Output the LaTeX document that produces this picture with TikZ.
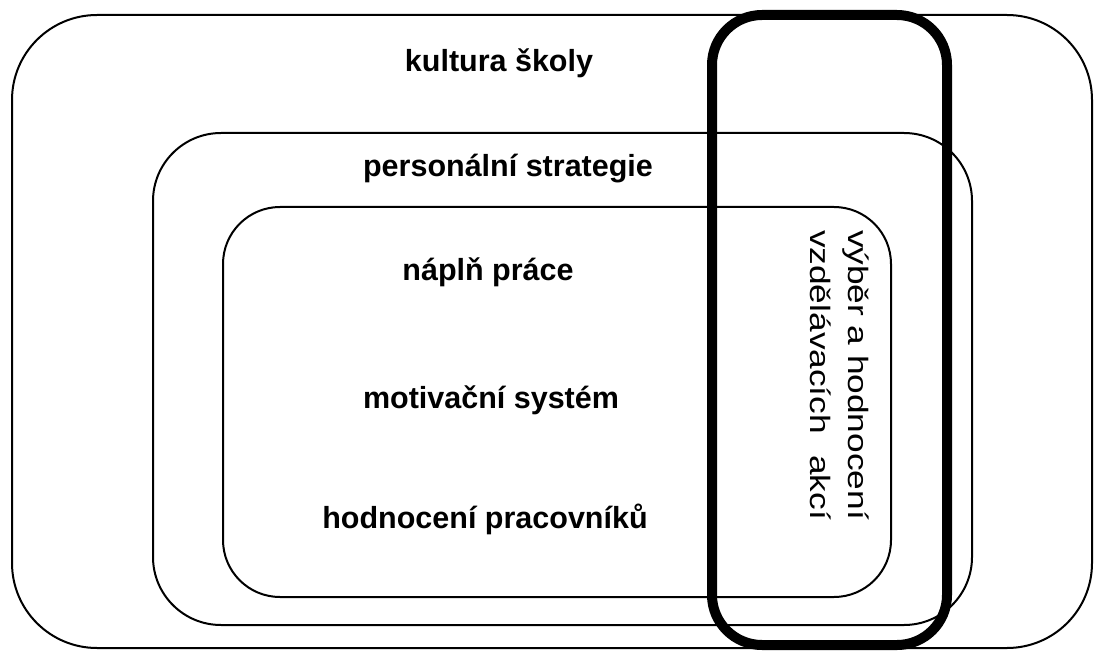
\documentclass[tikz,border=0pt]{standalone}
\usepackage{fontspec}
\setmainfont{Liberation Sans}
\usepackage{tikz}
\usetikzlibrary{positioning}

\tikzset{
  frame/.style={line width=2pt,rounded corners=#1},
  bigframe/.style={line width=10pt,rounded corners=50pt},
  label/.style={font=\fontsize{30.5}{36}\selectfont\bfseries,anchor=base,inner sep=0pt}
}

\begin{document}
\begin{tikzpicture}[x=1pt,y=-1pt,line cap=round,line join=round]
  % white background
  \fill[white] (0,0) rectangle (1094,652);
  \useasboundingbox (0,0) rectangle (1094,652);

  % nested frames
  \draw[frame=85pt] (12,15) rectangle (1092,648);
  \draw[frame=68pt] (153,133) rectangle (972,625);
  \draw[frame=57pt] (223,207) rectangle (891,597);

  % thick frame across
  \draw[bigframe] (712,15) rectangle (947,645);

  % labels
  \node[label] (skola) at (499,72) {kultura školy};
  \node[label] (strategie) at (508,177) {personální strategie};
  \node[label] (napln) at (488,280) {náplň práce};
  \node[label] (motivace) at (491,408) {motivační systém};
  \node[label] (hodnoceni) at (485,528) {hodnocení pracovníků};

  % side label (stretched along the line)
  \node[rotate=-90,inner sep=0pt] (akce) at (837,375)
    {\scalebox{1.26}[1]{\fontsize{28}{38}\selectfont
      \begin{tabular}{@{}l@{}}
        \makebox[230pt][s]{výběr a hodnocení}\\
        \makebox[230pt][s]{vzdělávacích akcí}
      \end{tabular}}};
\end{tikzpicture}
\end{document}
